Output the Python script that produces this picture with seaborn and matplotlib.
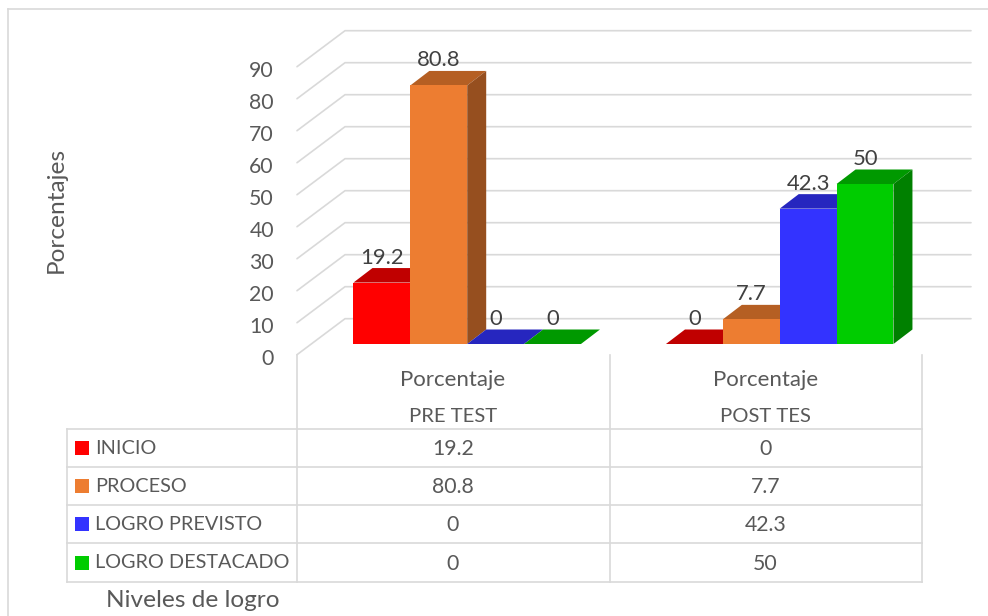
import matplotlib
matplotlib.use("Agg")
import matplotlib.pyplot as plt
import matplotlib.transforms as mtrans
from matplotlib.lines import Line2D
from matplotlib.patches import Polygon, Rectangle
import pandas as pd
import seaborn as sns

# ---- data ----
levels = ["INICIO", "PROCESO", "LOGRO PREVISTO", "LOGRO DESTACADO"]
pre_test = [19.2, 80.8, 0, 0]
post_test = [0, 7.7, 42.3, 50]
groups = ["PRE TEST", "POST TES"]
group_title = "Porcentaje"
y_ticks = [0, 10, 20, 30, 40, 50, 60, 70, 80, 90]
y_title = "Porcentajes"
x_title = "Niveles de logro"

# ---- style ----
front = ["#FF0000", "#ED7D31", "#3333FF", "#00CC00"]
top = ["#C00000", "#B55F23", "#2626BF", "#009900"]
side = ["#A00000", "#964F1F", "#1F1F9F", "#008000"]
GRID = "#D9D9D9"
TXT = "#595959"
DATA_TXT = "#404040"
FS_NUM = 15.3
FS_CAPS = 14.6
FS_LEGEND = 14.3
FS_GROUP = 16
FS_TITLE = 17.6

sns.set_theme(style="white")
plt.rcParams["font.family"] = ["Lato", "DejaVu Sans"]

W, H = 988, 616
fig = plt.figure(figsize=(W / 100, H / 100), dpi=100, facecolor="white")

# axes box in pixels
L, R, T, B = 297, 971, 30.7, 344
ax = fig.add_axes([L / W, 1 - B / H, (R - L) / W, (B - T) / H])
ax.patch.set_alpha(0)

df = pd.DataFrame({
    "grupo": [groups[0]] * len(levels) + [groups[1]] * len(levels),
    "nivel": levels * 2,
    "valor": pre_test + post_test,
})
sns.barplot(data=df, x="grupo", y="valor", hue="nivel", hue_order=levels,
            palette=front, width=0.728, gap=0, saturation=1, legend=False,
            errorbar=None, ax=ax, linewidth=0, zorder=3)

PX_X = 312.5   # pixels per category
PX_Y = 3.2     # pixels per percentage unit
C0 = 467.2     # pixel of first category
ax.set_xlim((L - C0) / PX_X, (R - C0) / PX_X)
ax.set_ylim(0, (B - T) / PX_Y)
ax.set_xticks([])
ax.set_yticks(y_ticks)
ax.tick_params(axis="y", length=0, pad=16.6, labelsize=FS_NUM, labelcolor=TXT)
sns.despine(ax=ax, left=True, bottom=True)

shift = mtrans.ScaledTranslation(0, -9.2 / 72, fig.dpi_scale_trans)
for lab in ax.get_yticklabels():
    lab.set_transform(lab.get_transform() + shift)

# 3-D walls, derived from the tick values
wall_front_x = (L - C0) / PX_X
wall_back_x = (345 - C0) / PX_X
wall_right_x = (R - C0) / PX_X
front_drop = (344 - 354.7) / PX_Y
back_rise = (344 - 318.7) / PX_Y
for v in y_ticks:
    ax.plot([wall_front_x, wall_back_x, wall_right_x],
            [v + front_drop, v + back_rise, v + back_rise],
            color=GRID, lw=1.2, zorder=1, clip_on=False, solid_joinstyle="miter")

# 3-D faces of each bar, derived from the bars seaborn drew
dx = 19 / PX_X
dy = 14.5 / PX_Y
bars = sorted([p for p in ax.patches if isinstance(p, Rectangle)], key=lambda p: p.get_x())
for i, bar in enumerate(bars):
    k = i % len(levels)
    x0, w, h = bar.get_x(), bar.get_width(), bar.get_height()
    z = 3 + i * 0.1
    bar.set_zorder(z + 0.02)
    bar.set_clip_on(False)
    ax.add_patch(Polygon([(x0, h), (x0 + w, h), (x0 + w + dx, h + dy), (x0 + dx, h + dy)],
                         closed=True, fc=top[k], ec="none", zorder=z, clip_on=False))
    if h > 0:
        ax.add_patch(Polygon([(x0 + w, 0), (x0 + w + dx, dy), (x0 + w + dx, h + dy), (x0 + w, h)],
                             closed=True, fc=side[k], ec="none", zorder=z + 0.01, clip_on=False))
    ax.annotate(f"{h:g}", (x0 + w / 2, h), xytext=(0, 18), textcoords="offset points",
                ha="center", va="center", fontsize=FS_NUM + 0.5, color=DATA_TXT, zorder=20,
                annotation_clip=False)

ax.set_ylabel(y_title, fontsize=FS_TITLE, color=TXT)
ax.yaxis.set_label_coords((56 - L) / (R - L), (B - 210) / (B - T))
ax.set_xlabel(x_title, fontsize=FS_TITLE, color=TXT)
ax.xaxis.set_label_coords((192.5 - L) / (R - L), (B - 600.7) / (B - T))
ax.xaxis.label.set_va("center")
ax.yaxis.label.set_va("center")


# ---- data table and frame, placed in pixel coordinates ----
def fx(px):
    return px / W


def fy(py):
    return 1 - py / H


def rule(x0, y0, x1, y1, lw=1.2):
    fig.add_artist(Line2D([fx(x0), fx(x1)], [fy(y0), fy(y1)], color=GRID, lw=lw,
                          solid_capstyle="projecting"))


# chart frame
rule(8, 9, 988, 9)
rule(8, 9, 8, 616)

col_x = [297, 609.5, 922]
row_y = [429, 467, 505, 543.3, 581.7]
table_left = 66.7
for y in row_y:
    rule(table_left, y, col_x[-1], y)
rule(table_left, row_y[0], table_left, row_y[-1])
for x in col_x:
    rule(x, 354.7, x, row_y[-1])

series = [pre_test, post_test]
for c, name in enumerate(groups):
    cx = (col_x[c] + col_x[c + 1]) / 2 - 0.5
    fig.text(fx(cx), fy(379.5), group_title, ha="center", va="center", fontsize=FS_GROUP, color=TXT)
    fig.text(fx(cx), fy(416.5), name, ha="center", va="center", fontsize=FS_CAPS, color=TXT)
    for r, val in enumerate(series[c]):
        ym = (row_y[r] + row_y[r + 1]) / 2 + 1
        fig.text(fx(cx), fy(ym), f"{val:g}", ha="center", va="center", fontsize=FS_NUM, color=TXT)

for r, name in enumerate(levels):
    ym = (row_y[r] + row_y[r + 1]) / 2
    fig.add_artist(Rectangle((fx(75), fy(ym + 7)), 14 / W, 14 / H, fc=front[r], ec="none",
                             transform=fig.transFigure))
    fig.text(fx(95), fy(ym + 0.5), name, ha="left", va="center", fontsize=FS_LEGEND, color=TXT)

fig.savefig("out.png", dpi=100, facecolor="white")
